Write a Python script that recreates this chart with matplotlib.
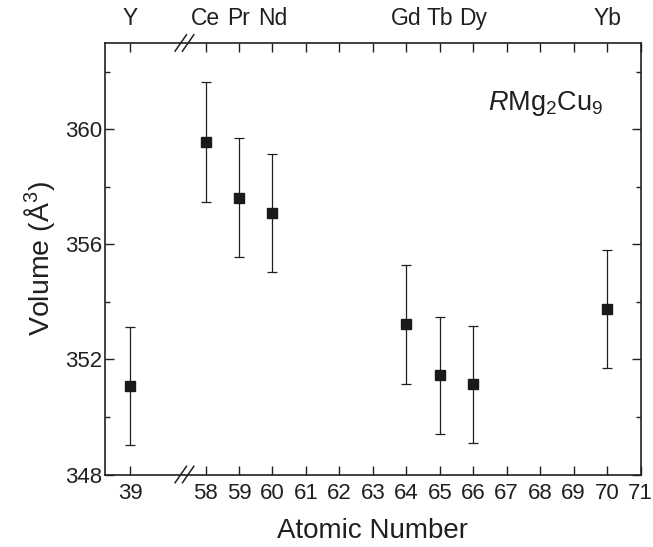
import matplotlib
matplotlib.use("Agg")
import matplotlib.pyplot as plt
import matplotlib.transforms as mtransforms

plt.rcParams['font.family'] = ['Liberation Sans', 'DejaVu Sans']
plt.rcParams['mathtext.fontset'] = 'custom'
plt.rcParams['mathtext.rm'] = 'Liberation Sans'
plt.rcParams['mathtext.it'] = 'Liberation Sans:italic'

INK = '#231f20'

# ---- data ----
elements = ['Y', 'Ce', 'Pr', 'Nd', 'Gd', 'Tb', 'Dy', 'Yb']
atomic_numbers = [39, 58, 59, 60, 64, 65, 66, 70]
volumes = [351.07, 359.56, 357.62, 357.09, 353.22, 351.45, 351.13, 353.74]
errors = [2.04, 2.08, 2.07, 2.06, 2.06, 2.04, 2.04, 2.05]
bottom_tick_numbers = [39] + list(range(58, 72))

# broken axis: Z below the break is drawn at a compressed position
BREAK_START = 58
Y_SLOT = 55.75


def axis_pos(z):
    return z if z >= BREAK_START else Y_SLOT


fig = plt.figure(figsize=(6.53, 5.47), dpi=100)
ax = fig.add_axes([0.161, 0.1325, 0.820, 0.789])

xs = [axis_pos(z) for z in atomic_numbers]
ax.errorbar(xs, volumes, yerr=errors, fmt='s', color='#1a1a1a', ms=7.2,
            ecolor=INK, elinewidth=0.9, capsize=3.4, capthick=0.9)

ax.set_xlim(55, 71)
ax.set_ylim(348, 363)

ax.set_xticks([axis_pos(z) for z in bottom_tick_numbers])
ax.set_xticklabels([str(z) for z in bottom_tick_numbers])
ax.set_yticks([348, 352, 356, 360])
ax.set_yticks([350, 354, 358, 362], minor=True)

ax.tick_params(which='both', direction='in', top=True, right=True,
               colors=INK, labelcolor=INK, labelsize=16, width=1.0)
ax.tick_params(which='major', length=6.5)
ax.tick_params(axis='x', which='major', pad=6)
ax.tick_params(axis='y', which='major', pad=2)
ax.tick_params(which='minor', length=3.5)
for s in ax.spines.values():
    s.set_linewidth(1.2)
    s.set_color(INK)

# top element labels
sec = ax.secondary_xaxis('top')
sec.set_xticks([axis_pos(z) for z in atomic_numbers])
sec.set_xticklabels(elements)
sec.tick_params(length=0, pad=9, labelsize=16.5, labelcolor=INK)
sec.spines['top'].set_visible(False)

ax.set_xlabel('Atomic Number', fontsize=20, color=INK, labelpad=10)
ax.set_ylabel('Volume (Å$^3$)', fontsize=20.5, color=INK, labelpad=6)

ax.text(0.93, 0.86, r'$\mathit{R}\mathrm{Mg}_2\mathrm{Cu}_9$', transform=ax.transAxes,
        ha='right', va='center', fontsize=19.5, color=INK)

# axis-break marks
trans = mtransforms.blended_transform_factory(ax.transData, ax.transAxes)
bx = 57.37
for yax in (0.0, 1.0):
    for dx in (-0.11, 0.11):
        ax.plot([bx + dx - 0.17, bx + dx + 0.17], [yax - 0.019, yax + 0.019],
                transform=trans, color=INK, lw=1.1, clip_on=False)

fig.savefig('out.png', dpi=100)
